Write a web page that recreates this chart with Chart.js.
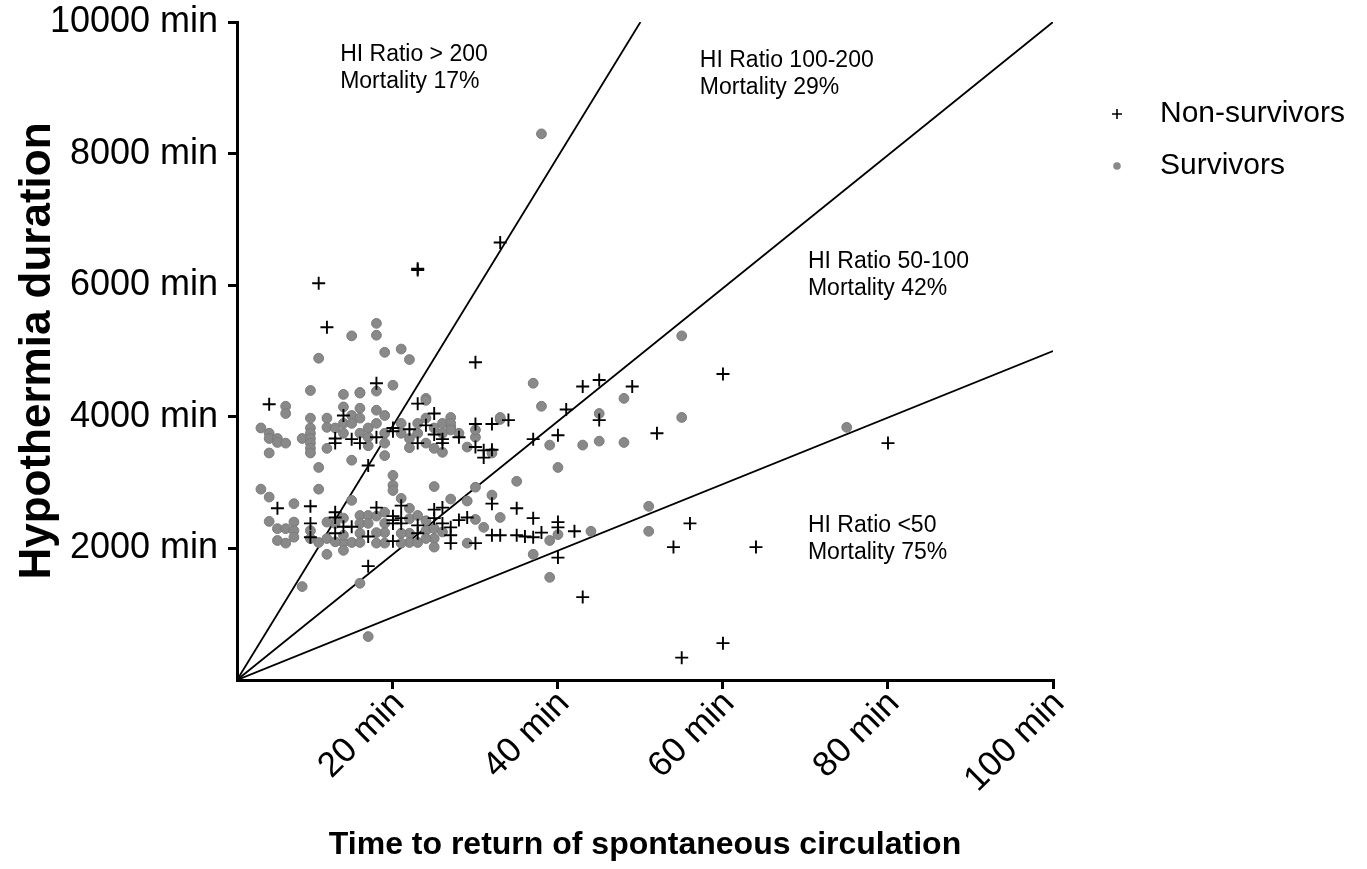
<!DOCTYPE html>
<html>
<head>
<meta charset="utf-8">
<script src="https://cdn.jsdelivr.net/npm/chart.js@4/dist/chart.umd.min.js"></script>
<style>
  html, body { margin: 0; padding: 0; background: #fff; }
  #wrap { width: 1367px; height: 869px; position: relative; }
</style>
</head>
<body>
<div id="wrap"><canvas id="hiChart"></canvas></div>
<script>
// time to ROSC (min), hypothermia duration (min)
const nonSurvivors = [
  [5,4190],[11,6030],[12,5360],[23,6250],[23,6230],[33,6650],[30,4830],[18,4510],[43,4460],[45,4560],
  [49,4460],[60,4650],[41,4110],[45,3950],[52,3750],[80,3600],[37,3660],[40,3720],[30,3890],[32,3890],
  [34,3950],[25,4050],[24,3870],[25,3730],[26,3660],[28,3690],[30,3540],[31,3490],[32,3500],[31,3380],
  [23,4200],[20,3830],[20,3780],[22,3810],[26,3600],[23,3600],[18,3690],[15,3660],[16,3600],[14,4020],
  [13,3670],[13,3600],[17,3260],
  [25,2590],[26,2620],[25,2460],[26,2380],[27,2320],[27,2200],[27,2080],[28,2430],[29,2470],[30,2080],
  [32,2680],[35,2610],[37,2460],[32,2200],[33,2200],[35,2200],[36,2180],[37,2170],[38,2240],[40,2400],
  [40,2320],[42,2260],[40,1860],[56,2380],[54,2020],[64,2020],[60,560],[55,340],[43,1260],[17,1730],
  [18,2620],[21,2650],[20,2490],[20,2430],[20,2380],[21,2460],[21,2380],[23,2350],[23,2230],[17,2180],
  [20,2110],[14,2330],[15,2330],[6,2610],[10,2640],[10,2380],[10,2170],[13,2550],[13,2470],[13,2230]
];

const survivors = [
  [7,4160],[7,4050],[4,3830],[5,3750],[5,3670],[6,3670],[6,3610],[7,3600],[5,3450],[9,3670],
  [10,3980],[10,3830],[10,3750],[10,3670],[10,3600],[10,3520],[10,3450],[12,3980],[12,3840],[12,3520],
  [11,3230],[11,2900],
  [38,8300],[18,5420],[18,5240],[15,5230],[11,4890],[19,4980],[21,5030],[22,4870],[10,4400],[14,4340],
  [16,4370],[18,4390],[20,4480],[37,4510],[48,4280],[24,4280],
  [55,5230],[55,3990],[75,3840],[51,2640],[51,2260],[9,1420],[16,1470],[17,660],[39,1560],
  [38,4160],[45,4050],[33,3960],[39,3570],[43,3570],[45,3630],[48,3610],[40,3230],[35,3020],[25,2940],
  [30,2930],[27,2750],[29,2720],[32,2810],[33,2470],[30,2440],[31,2320],[39,2120],[40,2210],[44,2260],
  [29,2080],[25,2150],[25,2020],[37,1910],[24,4250],[24,3980],[27,3990],[26,3900],[27,3840],[28,3750],
  [25,3520],[26,3460],[29,3540],[30,3690],[32,3450],[27,3900],[27,3800],[33,3990],[30,3800],
  [16,4360],[18,4100],[19,4020],[14,4150],[15,4020],[16,4130],[16,3980],[14,3900],[15,3900],[21,3900],
  [15,3340],[19,3410],[20,3110],[20,2960],[20,2880],[21,2760],[15,2730],[22,2610],[16,2500],[17,2500],
  [18,2490],[19,2380],[19,2240],[16,2380],[16,2230],[18,2240],[22,2230],[22,2090],[14,2090],[15,2090],
  [16,2090],[18,2080],[19,2080],[23,2090],[24,2270],[24,2150],[21,2080],[14,1970],
  [4,2900],[5,2780],[8,2680],[5,2410],[6,2300],[7,2300],[8,2400],[8,2270],[6,2120],[7,2080],
  [8,2170],[10,2270],[10,2150],[11,2090],[12,1910],
  [13,3830],[14,3750],[16,3750],[17,3830],[17,3690],[18,3900],[19,3750],[19,3600],[21,3750],[22,3670],
  [22,3530],[23,3750],[23,3900],[24,3600],[25,3830],[26,3750],[17,3560],
  [13,2380],[14,2460],[14,2200],[17,2380],[19,2550],[21,2230],[22,2450],[23,2500],[24,2420],[25,2300],
  [26,2250],[12,2150],[12,2400],[13,2100]
];

const hiRatios = [200, 100, 50];
const xMin = 1.1;
const xTicks = [20, 40, 60, 80, 100];
const yTicks = [2000, 4000, 6000, 8000, 10000];

const zoneLabels = [
  { x: 13.6, y: 9500, lines: ['HI Ratio > 200', 'Mortality 17%'] },
  { x: 57.2, y: 9420, lines: ['HI Ratio 100-200', 'Mortality 29%'] },
  { x: 70.3, y: 6360, lines: ['HI Ratio 50-100', 'Mortality 42%'] },
  { x: 70.3, y: 2350, lines: ['HI Ratio <50', 'Mortality 75%'] }
];

const FONT = "'Liberation Sans', Arial, Helvetica, sans-serif";
Chart.defaults.font.family = FONT;
Chart.defaults.color = '#000';

const toPts = arr => arr.map(p => ({ x: p[0], y: p[1] }));

// ratio lines from the axis corner, ended at the plot frame
const lineSets = hiRatios.map(r => {
  const xEnd = Math.min(100, 10000 / r);
  return {
    type: 'line',
    label: 'HI ' + r,
    data: [{ x: xMin, y: 0 }, { x: xEnd, y: xEnd * r }],
    borderColor: '#000',
    borderWidth: 1.8,
    pointRadius: 0,
    fill: false,
    tension: 0,
    clip: 0
  };
});

const annotatePlugin = {
  id: 'annotate',
  afterDatasetsDraw(chart) {
    const { ctx, scales } = chart;
    ctx.save();
    ctx.fillStyle = '#000';
    ctx.font = '23px ' + FONT;
    ctx.textAlign = 'left';
    ctx.textBaseline = 'middle';
    zoneLabels.forEach(z => {
      const px = scales.x.getPixelForValue(z.x);
      const py = scales.y.getPixelForValue(z.y);
      z.lines.forEach((t, i) => ctx.fillText(t, px, py + i * 27));
    });

    // legend
    ctx.font = '30px ' + FONT;
    const items = chart.data.datasets.slice(0, 2);
    items.forEach((ds, i) => {
      const cy = 114 + i * 52;
      const cx = 1117;
      if (ds.pointStyle === 'cross') {
        ctx.strokeStyle = '#000';
        ctx.lineWidth = 1.6;
        ctx.beginPath();
        ctx.moveTo(cx - 5, cy); ctx.lineTo(cx + 5, cy);
        ctx.moveTo(cx, cy - 5); ctx.lineTo(cx, cy + 5);
        ctx.stroke();
      } else {
        ctx.fillStyle = ds.backgroundColor;
        ctx.beginPath();
        ctx.arc(cx, cy, 3.8, 0, Math.PI * 2);
        ctx.fill();
      }
      ctx.fillStyle = '#000';
      ctx.fillText(ds.label, 1160, cy);
    });
    ctx.restore();
  }
};

const ctx = document.getElementById('hiChart').getContext('2d');
new Chart(ctx, {
  type: 'scatter',
  data: {
    datasets: [
      {
        label: 'Non-survivors',
        data: toPts(nonSurvivors),
        pointStyle: 'cross',
        pointRadius: 6.5,
        pointBorderWidth: 1.9,
        borderColor: '#000',
        backgroundColor: '#000'
      },
      {
        label: 'Survivors',
        data: toPts(survivors),
        pointStyle: 'circle',
        pointRadius: 4.9,
        pointBorderWidth: 1,
        borderColor: '#7b7b7b',
        backgroundColor: '#898989'
      },
      ...lineSets
    ]
  },
  options: {
    responsive: true,
    maintainAspectRatio: false,
    animation: false,
    layout: { padding: { top: 22, right: 314, left: 0, bottom: 0 } },
    plugins: {
      legend: { display: false },
      tooltip: { enabled: false }
    },
    scales: {
      x: {
        type: 'linear',
        min: xMin,
        max: 100,
        afterBuildTicks: s => { s.ticks = xTicks.map(v => ({ value: v })); },
        afterFit: s => { s.height = 189; s.paddingLeft = 0; s.paddingRight = 0; },
        ticks: {
          font: { size: 35 },
          minRotation: 45,
          maxRotation: 45,
          padding: -6,
          labelOffset: 6,
          callback: v => v + ' min'
        },
        grid: { drawOnChartArea: false, drawTicks: true, tickLength: 9, color: '#000', lineWidth: 3 },
        border: { display: true, color: '#000', width: 3 },
        title: {
          display: true,
          text: 'Time to return of spontaneous circulation',
          font: { size: 32, weight: 'bold', lineHeight: 1 },
          padding: { top: 0, bottom: 8 }
        }
      },
      y: {
        type: 'linear',
        min: 0,
        max: 10000,
        afterBuildTicks: s => { s.ticks = yTicks.map(v => ({ value: v })); },
        afterFit: s => { s.width = 237; s.paddingTop = 0; s.paddingBottom = 0; },
        ticks: {
          font: { size: 36 },
          padding: 10,
          callback: v => v + ' min'
        },
        grid: { drawOnChartArea: false, drawTicks: true, tickLength: 9, color: '#000', lineWidth: 3 },
        border: { display: true, color: '#000', width: 3 },
        title: {
          display: true,
          text: 'Hypothermia duration',
          font: { size: 44, weight: 'bold', lineHeight: 1 },
          padding: { top: 16, bottom: 0 }
        }
      }
    }
  },
  plugins: [annotatePlugin]
});
</script>
</body>
</html>
